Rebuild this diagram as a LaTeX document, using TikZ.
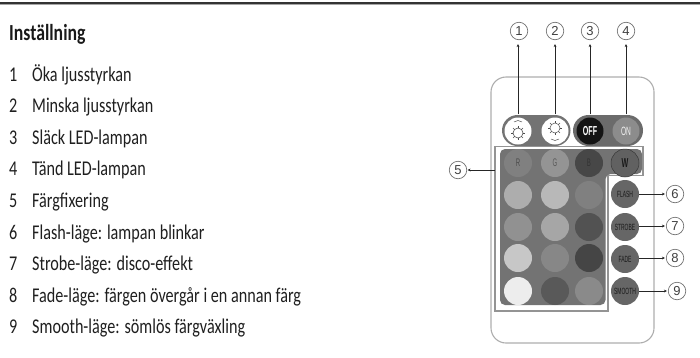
\documentclass[tikz,border=0pt]{standalone}
\usepackage{fontspec}
\setmainfont{Carlito}[FakeStretch=0.77]
\newfontfamily\digitfont{Liberation Sans}
\newfontfamily\keyfont{Liberation Sans}[FakeStretch=0.55]
\usetikzlibrary{arrows.meta}
\tikzset{
  x=1pt,y=-1pt,
  item/.style={anchor=base west,inner sep=0pt,font=\fontsize{21}{24}\selectfont,text=black!88},
  callout/.style={circle,draw=black!55,line width=0.7pt,fill=white,minimum size=17.5pt,inner sep=0pt,font=\digitfont\fontsize{13}{14}\selectfont,text=black!75},
  btn/.style={circle,minimum size=27pt,inner sep=0pt,font=\keyfont\fontsize{9}{10}\selectfont},
  key/.style={btn,minimum size=28pt},
  lead/.style={draw=black!85,line width=1pt,-{Stealth[length=3pt,width=2.8pt]}},
}
\begin{document}
\begin{tikzpicture}
\useasboundingbox (0,0) rectangle (700,357);
\fill[black!80] (0,1.5) rectangle (700,4);
\fill[black!35] (0,4) rectangle (700,5);
% text
\node[item,font=\fontsize{23}{26}\selectfont\bfseries,text=black!90] (title) at (9,40) {Inställning};
\foreach \n/\t [count=\i from 0] in {1/Öka ljusstyrkan,2/Minska ljusstyrkan,3/Släck LED-lampan,4/Tänd LED-lampan,5/Färgfixering,6/Flash-läge: lampan blinkar,7/Strobe-läge: disco-effekt,8/Fade-läge: färgen övergår i en annan färg,9/Smooth-läge: sömlös färgväxling}{
  \node[item] (num\n) at (9,{81+31.6*\i}) {\n};
  \node[item] (txt\n) at (32,{81+31.6*\i}) {\t};
}
% remote
\draw[draw=black!32,line width=1.1pt,rounded corners=15pt] (491,77) rectangle (654,343);
% top pills
\fill[black!55,rounded corners=15.5pt] (502,115) rectangle (570.5,146);
\fill[black!58,rounded corners=15.5pt] (573,115) rectangle (643,146);
% panel
\draw[draw=black!42,line width=1.6pt,fill=white] (495,146.5) -- (643,146.5) -- (643,175.5) -- (608,175.5) -- (608,311) -- (495,311) -- cycle;
\fill[black!55,rounded corners=5pt] (500,149) -- (642,149) -- (642,174) -- (605.5,174) -- (605.5,305) -- (500,305) -- cycle;
% top buttons
\node[btn,fill=white] (k1) at (518,131) {};
\node[btn,fill=white] (k2) at (555,131) {};
\node[btn,fill=black!92,text=white,font=\keyfont\fontsize{13}{14}\selectfont\bfseries] (k3) at (590,131) {OFF};
\node[btn,fill=black!45,text=black!5,font=\keyfont\fontsize{12}{13}\selectfont] (k4) at (626,131) {ON};
% brightness icons
\draw[black!70,line width=0.6pt] (518,133) circle[radius=5];
\foreach \a in {0,45,...,315}{\draw[black!70,line width=0.5pt] (518,133) ++(\a:5) -- ++(\a:2);}
\draw[black!70,line width=0.5pt] (514,122) -- (518,120.5) -- (522,122);
\draw[black!70,line width=0.5pt] (555,128) circle[radius=5];
\foreach \a in {0,45,...,315}{\draw[black!70,line width=0.5pt] (555,128) ++(\a:5) -- ++(\a:2);}
\draw[black!70,line width=0.5pt] (551,139) -- (555,140.5) -- (559,139);
% colour keys
\node[key,fill=black!50,text=black!70,font=\keyfont\fontsize{11}{12}\selectfont] (R) at (518,163) {R};
\node[key,fill=black!42,text=black!65,font=\keyfont\fontsize{11}{12}\selectfont] (G) at (555,163) {G};
\node[key,fill=black!72,text=black!80,font=\keyfont\fontsize{11}{12}\selectfont] (B) at (589,163) {B};
\node[key,fill=black!62,draw=black!78,line width=0.5pt,text=black!90,font=\keyfont\fontsize{13}{14}\selectfont\bfseries] (W) at (625,163) {W};
\foreach \nm/\xx/\yy/\c in {a1/518/195/32,a2/555/195/28,a3/589/195/50,
  b1/518/227/43,b2/555/227/35,b3/589/227/68,
  c1/518/258/22,c2/555/258/47,c3/589/258/73,
  d1/518/291/7,d2/555/291/65,d3/589/291/46}{
  \node[key,fill=black!\c] (\nm) at (\xx,\yy) {};
}
% side keys
\foreach \nm/\yy/\t in {k6/194/FLASH,k7/227/STROBE,k8/259/FADE,k9/291/SMOOTH}{
  \node[key,fill=black!60,text=black!90] (\nm) at (625,\yy) {\t};
}
% callouts
\node[callout] (c1) at (519,31) {1};
\node[callout] (c2) at (555,31) {2};
\node[callout] (c3) at (590,31) {3};
\node[callout] (c4) at (626,31) {4};
\node[callout] (c5) at (458,170) {5};
\node[callout] (c6) at (675,194) {6};
\node[callout] (c7) at (675,226) {7};
\node[callout] (c8) at (675,258) {8};
\node[callout] (c9) at (677,291) {9};
% leaders
\foreach \k/\c in {k1/c1,k2/c2,k3/c3,k4/c4}{
  \draw[lead,shorten >=4pt,shorten <=3pt] (\k.north) -- (\k.north |- \c.south);
}
\coordinate (panelleft) at (495,170);
\draw[lead,shorten >=0.5pt] (panelleft) -- (c5.east);
\foreach \k/\c in {k6/c6,k7/c7,k8/c8,k9/c9}{
  \draw[lead,shorten >=1pt] (\k.east |- \c.west) -- (\c.west);
}
\end{tikzpicture}
\end{document}
